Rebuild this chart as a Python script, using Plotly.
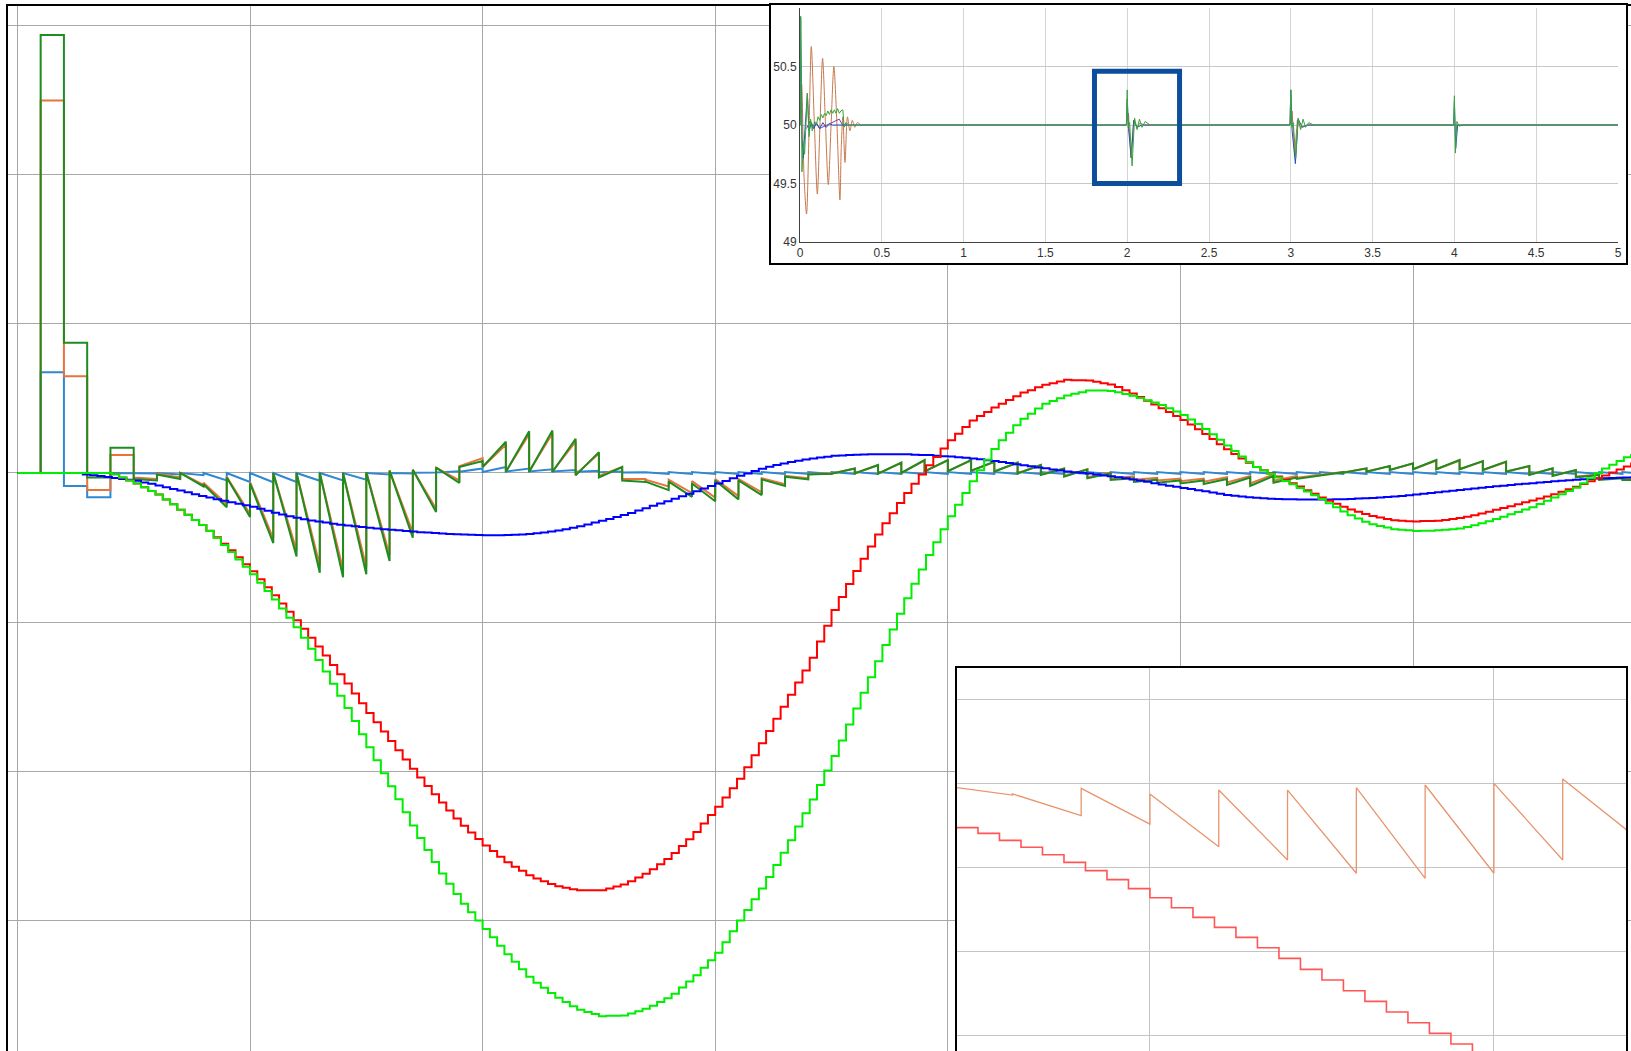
import plotly.graph_objects as go

W, H = 1631, 1051

# ---------------- main chart data ----------------
# fine staircase signals, one value every STEP_DT (time units of the main grid)
STEP_DT = 1 / 32
LIME = [0, 0, 0, 0, 0, 0, 0, 0, 0, 0, 0, 0, 0, -0.009, -0.03, -0.05,
        -0.07, -0.095, -0.12, -0.145, -0.178, -0.21, -0.246, -0.281, -0.315, -0.349, -0.389, -0.436, -0.483, -0.53, -0.58, -0.63,
        -0.68, -0.736, -0.792, -0.849, -0.91, -0.972, -1.035, -1.106, -1.18, -1.255, -1.333, -1.414, -1.495, -1.577, -1.665, -1.753,
        -1.84, -1.927, -2.015, -2.103, -2.19, -2.277, -2.365, -2.449, -2.53, -2.611, -2.688, -2.757, -2.825, -2.891, -2.948, -3.004,
        -3.06, -3.116, -3.173, -3.229, -3.28, -3.33, -3.38, -3.421, -3.455, -3.489, -3.521, -3.55, -3.578, -3.603, -3.617, -3.631,
        -3.645, -3.643, -3.642, -3.64, -3.628, -3.612, -3.596, -3.575, -3.55, -3.525, -3.494, -3.453, -3.413, -3.37, -3.32, -3.27,
        -3.22, -3.149, -3.076, -3.004, -2.933, -2.861, -2.789, -2.711, -2.63, -2.549, -2.464, -2.372, -2.283, -2.191, -2.094, -1.996,
        -1.9, -1.795, -1.688, -1.58, -1.475, -1.37, -1.263, -1.155, -1.05, -0.945, -0.841, -0.744, -0.648, -0.551, -0.465, -0.377,
        -0.29, -0.213, -0.134, -0.055, 0.018, 0.089, 0.161, 0.22, 0.27, 0.32, 0.364, 0.398, 0.433, 0.464, 0.483, 0.501,
        0.52, 0.531, 0.542, 0.553, 0.554, 0.553, 0.551, 0.542, 0.53, 0.518, 0.504, 0.488, 0.473, 0.456, 0.434, 0.412,
        0.39, 0.359, 0.328, 0.296, 0.26, 0.223, 0.185, 0.147, 0.11, 0.073, 0.041, 0.017, -0.006, -0.03, -0.053, -0.076,
        -0.1, -0.125, -0.15, -0.175, -0.203, -0.23, -0.259, -0.283, -0.305, -0.327, -0.344, -0.355, -0.366, -0.377, -0.381, -0.385,
        -0.39, -0.388, -0.387, -0.385, -0.381, -0.377, -0.372, -0.362, -0.35, -0.338, -0.324, -0.308, -0.293, -0.277, -0.261, -0.245,
        -0.23, -0.208, -0.186, -0.164, -0.143, -0.121, -0.099, -0.069, -0.035, -0.001, 0.03, 0.055, 0.08, 0.105, 0.12, 0.135]
RED = [0, 0, 0, 0, 0, 0, 0, 0, 0, 0, 0, 0, 0, -0.009, -0.03, -0.05,
       -0.07, -0.095, -0.12, -0.145, -0.178, -0.21, -0.246, -0.281, -0.315, -0.349, -0.388, -0.432, -0.475, -0.519, -0.566, -0.613,
       -0.66, -0.713, -0.766, -0.82, -0.875, -0.931, -0.988, -1.046, -1.105, -1.164, -1.225, -1.288, -1.35, -1.412, -1.479, -1.545,
       -1.61, -1.672, -1.735, -1.798, -1.86, -1.922, -1.985, -2.044, -2.1, -2.156, -2.211, -2.265, -2.318, -2.368, -2.413, -2.457,
       -2.5, -2.537, -2.575, -2.613, -2.643, -2.67, -2.699, -2.721, -2.74, -2.759, -2.774, -2.783, -2.793, -2.8, -2.8, -2.8,
       -2.8, -2.788, -2.775, -2.762, -2.74, -2.715, -2.69, -2.659, -2.625, -2.591, -2.551, -2.504, -2.458, -2.409, -2.353, -2.296,
       -2.24, -2.178, -2.115, -2.052, -1.975, -1.894, -1.813, -1.731, -1.65, -1.569, -1.488, -1.406, -1.325, -1.24, -1.131, -1.025,
       -0.92, -0.833, -0.745, -0.657, -0.575, -0.494, -0.413, -0.338, -0.27, -0.202, -0.135, -0.072, -0.01, 0.052, 0.108, 0.164,
       0.22, 0.263, 0.308, 0.352, 0.383, 0.41, 0.439, 0.465, 0.49, 0.515, 0.54, 0.556, 0.575, 0.592, 0.603, 0.614,
       0.625, 0.623, 0.622, 0.62, 0.613, 0.603, 0.594, 0.577, 0.555, 0.533, 0.51, 0.485, 0.46, 0.435, 0.409, 0.382,
       0.356, 0.325, 0.293, 0.261, 0.228, 0.193, 0.159, 0.127, 0.098, 0.068, 0.041, 0.019, -0.003, -0.024, -0.046, -0.068,
       -0.09, -0.115, -0.14, -0.165, -0.186, -0.206, -0.227, -0.245, -0.26, -0.275, -0.289, -0.298, -0.308, -0.317, -0.321, -0.324,
       -0.325, -0.323, -0.322, -0.32, -0.315, -0.309, -0.302, -0.293, -0.283, -0.272, -0.26, -0.247, -0.235, -0.223, -0.21, -0.197,
       -0.185, -0.171, -0.157, -0.143, -0.126, -0.109, -0.092, -0.074, -0.055, -0.036, -0.017, 0.004, 0.024, 0.044, 0.063, 0.081]
BLUE = [0, 0, 0, 0, 0, 0, 0, 0, 0, -0.01, -0.015, -0.021, -0.027, -0.033, -0.04, -0.046,
        -0.052, -0.063, -0.073, -0.084, -0.095, -0.107, -0.118, -0.13, -0.142, -0.154, -0.165, -0.176, -0.187, -0.197, -0.207, -0.216,
        -0.226, -0.24, -0.254, -0.267, -0.279, -0.29, -0.301, -0.31, -0.318, -0.325, -0.333, -0.34, -0.347, -0.353, -0.358, -0.363,
        -0.368, -0.372, -0.377, -0.381, -0.385, -0.389, -0.393, -0.397, -0.4, -0.403, -0.406, -0.409, -0.411, -0.413, -0.415, -0.416,
        -0.418, -0.417, -0.417, -0.416, -0.414, -0.412, -0.409, -0.405, -0.399, -0.393, -0.386, -0.377, -0.368, -0.358, -0.345, -0.332,
        -0.32, -0.308, -0.295, -0.282, -0.268, -0.252, -0.236, -0.22, -0.205, -0.19, -0.173, -0.156, -0.139, -0.122, -0.104, -0.087,
        -0.07, -0.053, -0.036, -0.018, -0.003, 0.013, 0.029, 0.042, 0.053, 0.063, 0.073, 0.082, 0.09, 0.098, 0.104, 0.109,
        0.115, 0.117, 0.12, 0.122, 0.124, 0.125, 0.126, 0.126, 0.126, 0.125, 0.125, 0.123, 0.121, 0.12, 0.116, 0.113,
        0.11, 0.106, 0.102, 0.098, 0.092, 0.086, 0.08, 0.074, 0.067, 0.059, 0.052, 0.045, 0.037, 0.031, 0.024, 0.017,
        0.01, 0.005, 0.001, -0.004, -0.01, -0.016, -0.022, -0.029, -0.036, -0.043, -0.05, -0.059, -0.068, -0.077, -0.085, -0.092,
        -0.1, -0.108, -0.116, -0.123, -0.131, -0.139, -0.147, -0.153, -0.158, -0.162, -0.166, -0.169, -0.173, -0.175, -0.176, -0.177,
        -0.178, -0.178, -0.178, -0.178, -0.178, -0.177, -0.176, -0.175, -0.172, -0.17, -0.167, -0.164, -0.161, -0.158, -0.154, -0.149,
        -0.145, -0.14, -0.134, -0.129, -0.124, -0.119, -0.114, -0.109, -0.104, -0.099, -0.094, -0.089, -0.085, -0.08, -0.076, -0.072,
        -0.068, -0.064, -0.06, -0.056, -0.052, -0.048, -0.045, -0.042, -0.04, -0.037, -0.035, -0.034, -0.032, -0.03, -0.029, -0.028]

# sampled (0.1 period) signals: value right after each sample instant and value just before the next
PERIOD = 0.1
PERIOD_T = [round(PERIOD * i, 1) for i in range(70)]
DG_START = [0, 2.94, 0.874, -0.03, 0.17, -0.04, -0.01, 0.0, -0.075, -0.03,
            -0.07, 0.0, 0.0, 0.0, 0.0, 0.005, 0.016, 0.022, 0.036, 0.04,
            0.04, 0.007, 0.007, 0.007, -0.016, -0.03, -0.05, -0.058, -0.058, -0.07,
            -0.05, -0.05, -0.043, -0.025, -0.01, -0.005, -0.003, -0.005, 0.0, 0.01,
            0.012, 0.015, 0.01, -0.003, -0.013, -0.025, -0.036, -0.047, -0.06, -0.065,
            -0.07, -0.074, -0.08, -0.087, -0.065, -0.04, -0.02, 0.002, 0.009, 0.02,
            0.025, 0.025, 0.025, 0.02, 0.009, -0.013, -0.02, -0.029, -0.047, -0.047]
DG_END = [0, 2.94, 0.874, -0.03, 0.17, -0.05, -0.04, -0.09, -0.23, -0.295,
          -0.47, -0.56, -0.67, -0.70, -0.68, -0.59, -0.434, -0.262, -0.067, 0.08,
          0.21, 0.28, 0.286, 0.23, 0.14, 0.04, -0.06, -0.115, -0.16, -0.19,
          -0.177, -0.148, -0.087, -0.043, -0.005, 0.03, 0.054, 0.07, 0.087, 0.087,
          0.087, 0.076, 0.07, 0.054, 0.03, 0.025, -0.002, -0.035, -0.045, -0.05,
          -0.05, -0.04, -0.03, -0.02, -0.03, -0.02, 0.005, 0.031, 0.047, 0.065,
          0.087, 0.087, 0.08, 0.076, 0.047, 0.031, 0.02, -0.013, -0.036, -0.045]
OR_START = [0, 2.50, 0.65, -0.114, 0.12, -0.03, -0.005, 0.0, -0.065, -0.025,
            -0.06, 0.0, 0.0, 0.0, 0.0, 0.005, 0.016, 0.022, 0.036, 0.045,
            0.04, 0.01, 0.01, 0.01, -0.01, -0.02, -0.04, -0.045, -0.045, -0.055,
            -0.04, -0.04, -0.035, -0.02, -0.008, -0.004, -0.002, -0.004, 0.0, 0.01,
            0.012, 0.014, 0.01, -0.002, -0.01, -0.02, -0.028, -0.035, -0.045, -0.05,
            -0.055, -0.058, -0.063, -0.07, -0.052, -0.032, -0.014, 0.004, 0.01, 0.02,
            0.025, 0.025, 0.025, 0.02, 0.01, -0.01, -0.016, -0.024, -0.04, -0.04]
OR_END = [0, 2.50, 0.65, -0.114, 0.12, -0.04, -0.03, -0.08, -0.21, -0.275,
          -0.44, -0.52, -0.62, -0.65, -0.63, -0.55, -0.40, -0.24, -0.05, 0.10,
          0.19, 0.26, 0.265, 0.21, 0.13, 0.04, -0.04, -0.09, -0.135, -0.165,
          -0.155, -0.13, -0.075, -0.035, -0.002, 0.03, 0.052, 0.068, 0.085, 0.085,
          0.085, 0.074, 0.068, 0.052, 0.03, 0.025, 0.002, -0.022, -0.032, -0.037,
          -0.037, -0.028, -0.02, -0.01, -0.02, -0.012, 0.008, 0.03, 0.046, 0.063,
          0.084, 0.084, 0.078, 0.074, 0.046, 0.03, 0.019, -0.01, -0.03, -0.04]
LB_START = [0, 0.676, -0.087, -0.163, 0, 0, 0, 0, 0, 0,
            0, 0, 0, 0, 0, 0, 0, 0.002, 0.005, 0.008,
            0.007, 0.01, 0.01, 0.01, 0.008, 0.005, 0.003, 0.006, 0.006, 0.006,
            0.006, 0.006, 0.006, 0.006, 0.006, 0.006, 0.006, 0.006, 0.006, 0.006,
            0.006, 0.006, 0.006, 0.006, 0.006, 0.006, 0.006, 0.006, 0.006, 0.006,
            0.006, 0.006, 0.006, 0.006, 0.006, 0.006, 0.006, 0.006, 0.006, 0.006,
            0.006, 0.006, 0.006, 0.006, 0.006, 0.006, 0.006, 0.006, 0.006, 0.006]
LB_END = [0, 0.676, -0.087, -0.163, 0, -0.004, -0.01, -0.015, -0.05, -0.06,
          -0.062, -0.06, -0.052, -0.05, -0.045, -0.01, -0.004, 0.004, 0.012, 0.03,
          0.04, 0.03, 0.025, 0.02, 0.015, 0.01, 0.005, -0.006, -0.006, -0.006,
          -0.006, -0.006, -0.006, -0.006, -0.006, -0.006, -0.006, -0.006, -0.006, -0.006,
          -0.006, -0.006, -0.006, -0.006, -0.006, -0.006, -0.006, -0.006, -0.006, -0.006,
          -0.006, -0.006, -0.006, -0.006, -0.006, -0.006, -0.006, -0.006, -0.006, -0.006,
          -0.006, -0.006, -0.006, -0.006, -0.006, -0.006, -0.006, -0.006, -0.006, -0.006]
MAIN_XTICKS = [0, 1, 2, 3, 4, 5, 6, 7]
MAIN_YTICKS = [-3, -2, -1, 0, 1, 2, 3]

# ---------------- top inset data (frequency, Hz) ----------------
INS_GREEN_T = [0, 0.004, 0.012, 0.02, 0.028, 0.036, 0.045, 0.055, 0.065, 0.075, 0.09, 0.1, 0.11, 0.12, 0.13, 0.14,
               0.15, 0.16, 0.17, 0.18, 0.19, 0.2, 0.21, 0.22, 0.23, 0.24, 0.25, 0.262, 0.27, 0.28, 0.3,
               1.995, 2.0, 2.006, 2.015, 2.03, 2.045, 2.06, 2.075, 2.09, 2.11, 2.14,
               2.995, 3.0, 3.006, 3.015, 3.03, 3.045, 3.06, 3.075, 3.09, 3.11, 3.14,
               3.995, 4.0, 4.006, 4.015, 4.03, 4.05, 5.0]
INS_GREEN_V = [50, 50.93, 49.6, 49.85, 49.75, 50.05, 50.27, 49.9, 50.05, 49.95, 50.03, 50.0, 50.07, 50.04, 50.09, 50.06,
               50.1, 50.08, 50.12, 50.09, 50.13, 50.1, 50.13, 50.1, 50.14, 50.1, 50.12, 50.13, 49.98, 50.02, 50.0,
               50.0, 50.3, 49.98, 50.02, 49.65, 50.06, 49.96, 50.05, 49.98, 50.03, 50.0,
               50.0, 50.3, 49.98, 50.02, 49.72, 50.06, 49.96, 50.05, 49.98, 50.02, 50.0,
               50.0, 50.25, 49.76, 50.03, 49.99, 50.0, 50.0]
# orange: start-up oscillation (smooth) and the later disturbances
INS_ORANGE_OSC_T = [0, 0.01, 0.025, 0.04, 0.056, 0.069, 0.088, 0.106, 0.122, 0.138, 0.156, 0.173, 0.19, 0.207, 0.226,
                    0.244, 0.252, 0.262, 0.275, 0.29, 0.305, 0.32, 0.335, 0.35, 0.37]
INS_ORANGE_OSC_V = [50, 50.35, 49.55, 49.24, 50.0, 50.67, 50.0, 49.41, 50.0, 50.57, 50.0, 49.49, 50.0, 50.5, 50.0,
                    49.36, 49.8, 50.07, 49.68, 50.07, 49.95, 50.04, 49.98, 50.02, 50.0]
INS_ORANGE_T = [0.37, 1.995, 2.008, 2.022, 2.04, 2.06, 2.08, 2.1,
                2.995, 3.008, 3.024, 3.04, 3.06, 3.1, 5.0]
INS_ORANGE_V = [50.0, 50.0, 50.1, 49.72, 50.04, 49.98, 50.02, 50.0,
                50.0, 50.12, 49.75, 50.04, 49.98, 50.0, 50.0]
INS_BLUE_T = [0, 0.004, 0.012, 0.02, 0.03, 0.045, 0.055, 0.07, 0.085, 0.1, 0.12, 0.14, 0.16, 0.18, 0.2,
              1.995, 2.0, 2.008, 2.025, 2.04, 2.06, 2.09,
              2.995, 3.0, 3.008, 3.028, 3.045, 3.07, 3.1,
              3.995, 4.0, 4.008, 4.02, 5.0]
INS_BLUE_V = [50, 50.92, 49.9, 49.72, 49.95, 50.27, 49.95, 50.02, 49.97, 50.02, 49.97, 50.02, 49.98, 50.01, 50.0,
              50.0, 50.22, 49.97, 49.72, 50.04, 49.98, 50.0,
              50.0, 50.3, 49.95, 49.67, 50.05, 49.98, 50.0,
              50.0, 50.2, 49.8, 50.0, 50.0]
INS_PURPLE_T = [0.04, 0.06, 0.08, 0.1, 0.12, 0.15, 0.18, 0.21, 0.24, 0.26, 0.28]
INS_PURPLE_V = [49.97, 50.03, 49.97, 50.01, 49.97, 49.99, 50.01, 50.03, 50.05, 50.0, 50.0]
INS_XTICKS = [0, 0.5, 1, 1.5, 2, 2.5, 3, 3.5, 4, 4.5, 5]
INS_XLABELS = ["0", "0.5", "1", "1.5", "2", "2.5", "3", "3.5", "4", "4.5", "5"]
INS_YTICKS = [49, 49.5, 50, 50.5, 51]
INS_YLABELS = ["49", "49.5", "50", "50.5", ""]
HIGHLIGHT = dict(x0=1.80, x1=2.32, y0=49.50, y1=50.46)

# ---------------- bottom inset data (zoomed detail) ----------------
ZOOM_PERIOD = 0.2
ZOOM_SAW_T = [0.4, 0.6, 0.8, 1.0, 1.2, 1.4, 1.6, 1.8, 2.0, 2.2]
ZOOM_SAW_START = [2.97, 2.875, 2.94, 2.873, 2.92, 2.92, 2.948, 2.98, 3.0, 3.051]
ZOOM_SAW_END = [2.86, 2.615, 2.515, 2.245, 2.087, 1.929, 1.869, 1.929, 2.087, 2.40]
ZOOM_STEP_T0, ZOOM_STEP_DT = 0.4375, 0.0625
ZOOM_STEP_V = [2.472, 2.404, 2.321, 2.238, 2.150, 2.059, 1.960, 1.853, 1.746, 1.638, 1.519, 1.404, 1.285,
               1.166, 1.043, 0.916, 0.785, 0.658, 0.531, 0.404, 0.277, 0.150, 0.023, -0.104, -0.23]


def sawtooth(starts, a, b, dt):
    xs, ys = [], []
    for t0, v0, v1 in zip(starts, a, b):
        xs += [t0, t0 + dt]
        ys += [v0, v1]
    return xs, ys


fig = go.Figure()
t_fine = [k * STEP_DT for k in range(len(LIME))]

# main traces
for s, e, col in [(LB_START, LB_END, "#2F88D0"), (OR_START, OR_END, "#E8743B"), (DG_START, DG_END, "#1E8C1E")]:
    xs, ys = sawtooth(PERIOD_T, s, e, PERIOD)
    fig.add_trace(go.Scatter(x=xs, y=ys, mode="lines", line=dict(color=col, width=2), hoverinfo="skip"))
for vals, col in [(BLUE, "#0000FF"), (RED, "#FF0000"), (LIME, "#00EE00")]:
    fig.add_trace(go.Scatter(x=t_fine, y=vals, mode="lines", line=dict(color=col, width=2, shape="hv"),
                             hoverinfo="skip"))

# cover for top inset (white panel with black frame)
fig.add_trace(go.Scatter(x=[0.5], y=[0.5], mode="markers", marker=dict(opacity=0), xaxis="x2", yaxis="y2",
                         hoverinfo="skip"))
# top inset traces
fig.add_trace(go.Scatter(x=INS_ORANGE_OSC_T, y=INS_ORANGE_OSC_V, mode="lines", xaxis="x3", yaxis="y3",
                         line=dict(color="#C8784E", width=1, shape="spline", smoothing=0.8), hoverinfo="skip"))
fig.add_trace(go.Scatter(x=INS_ORANGE_T, y=INS_ORANGE_V, mode="lines", xaxis="x3", yaxis="y3",
                         line=dict(color="#C8784E", width=1), hoverinfo="skip"))
fig.add_trace(go.Scatter(x=INS_PURPLE_T, y=INS_PURPLE_V, mode="lines", xaxis="x3", yaxis="y3",
                         line=dict(color="#7A3FC0", width=1), hoverinfo="skip"))
fig.add_trace(go.Scatter(x=INS_BLUE_T, y=INS_BLUE_V, mode="lines", xaxis="x3", yaxis="y3",
                         line=dict(color="#2050B8", width=1), hoverinfo="skip"))
fig.add_trace(go.Scatter(x=INS_GREEN_T, y=INS_GREEN_V, mode="lines", xaxis="x3", yaxis="y3",
                         line=dict(color="#3AA53A", width=1), hoverinfo="skip"))

# bottom inset traces
zx, zy = sawtooth(ZOOM_SAW_T, ZOOM_SAW_START, ZOOM_SAW_END, ZOOM_PERIOD)
fig.add_trace(go.Scatter(x=zx, y=zy, mode="lines", xaxis="x4", yaxis="y4",
                         line=dict(color="#E8946C", width=1.3), hoverinfo="skip"))
zt = [ZOOM_STEP_T0 + i * ZOOM_STEP_DT for i in range(len(ZOOM_STEP_V))]
fig.add_trace(go.Scatter(x=zt, y=ZOOM_STEP_V, mode="lines", xaxis="x4", yaxis="y4",
                         line=dict(color="#FF5555", width=1.6, shape="hv"), hoverinfo="skip"))


def px_x(p):
    return p / W


def px_y(p):
    return 1 - p / H


grid_main = "#A8A8A8"
fig.update_layout(
    width=W, height=H, autosize=False,
    margin=dict(l=0, r=0, t=0, b=0, pad=0, autoexpand=False),
    paper_bgcolor="white", plot_bgcolor="white",
    showlegend=False, hovermode=False,
    font=dict(family="Liberation Sans, Arial, sans-serif", size=12, color="#333333"),
    xaxis=dict(domain=[px_x(8), 1], range=[-0.0404, 6.937], tickvals=MAIN_XTICKS, showticklabels=False,
               showgrid=True, gridcolor=grid_main, gridwidth=1, zeroline=False, ticks="", automargin=False,
               showline=True, linecolor="black", linewidth=2, side="top"),
    yaxis=dict(domain=[0, px_y(6)], range=[-3.879, 3.134], tickvals=MAIN_YTICKS, showticklabels=False,
               showgrid=True, gridcolor=grid_main, gridwidth=1, zeroline=False, ticks="", automargin=False,
               showline=True, linecolor="black", linewidth=2),
    xaxis2=dict(domain=[px_x(771), px_x(1626)], range=[0, 1], anchor="y2", showgrid=False, zeroline=False,
                showticklabels=False, ticks="", showline=True, mirror=True, linecolor="black", linewidth=2,
                automargin=False),
    yaxis2=dict(domain=[px_y(263), px_y(5)], range=[0, 1], anchor="x2", showgrid=False, zeroline=False,
                showticklabels=False, ticks="", showline=True, mirror=True, linecolor="black", linewidth=2,
                automargin=False),
    xaxis3=dict(domain=[px_x(800), px_x(1618)], range=[0, 5], anchor="y3", tickvals=INS_XTICKS,
                ticktext=INS_XLABELS, showgrid=True, gridcolor="#D4D4D4", gridwidth=1, zeroline=False,
                ticks="", showline=True, linecolor="#404040", linewidth=1, automargin=False,
                tickfont=dict(size=12, color="#333333")),
    yaxis3=dict(domain=[px_y(242), px_y(8)], range=[49, 51], anchor="x3", tickvals=INS_YTICKS,
                ticktext=INS_YLABELS, showgrid=True, gridcolor="#C8C8C8", gridwidth=1, zeroline=False,
                ticks="", showline=True, linecolor="#404040", linewidth=1, automargin=False,
                tickfont=dict(size=12, color="#333333")),
    xaxis4=dict(domain=[px_x(957), px_x(1626)], range=[0.439, 2.384], anchor="y4", tickvals=[1, 2],
                showticklabels=False, showgrid=True, gridcolor="#C4C4C4", gridwidth=1, zeroline=False,
                ticks="", showline=True, mirror=True, linecolor="black", linewidth=2, automargin=False),
    yaxis4=dict(domain=[0, px_y(668)], range=[-0.187, 4.373], anchor="x4", tickvals=[0, 1, 2, 3, 4],
                showticklabels=False, showgrid=True, gridcolor="#C4C4C4", gridwidth=1, zeroline=False,
                ticks="", showline=True, mirror=True, linecolor="black", linewidth=2, automargin=False),
    shapes=[dict(type="rect", xref="x3", yref="y3", line=dict(color="#0B4F9C", width=5),
                 fillcolor="rgba(0,0,0,0)", **HIGHLIGHT)],
)

PIN_PAGE = (
    "document.documentElement.style.margin='0px';"
    "document.documentElement.style.overflow='hidden';"
    "document.body.style.margin='0px';"
    "document.body.style.overflow='hidden';"
    "var gd=document.getElementById('{plot_id}');"
    "gd.style.position='fixed';gd.style.left='0px';gd.style.top='0px';"
)
fig.write_html("out.html", config={"displayModeBar": False}, post_script=PIN_PAGE)
